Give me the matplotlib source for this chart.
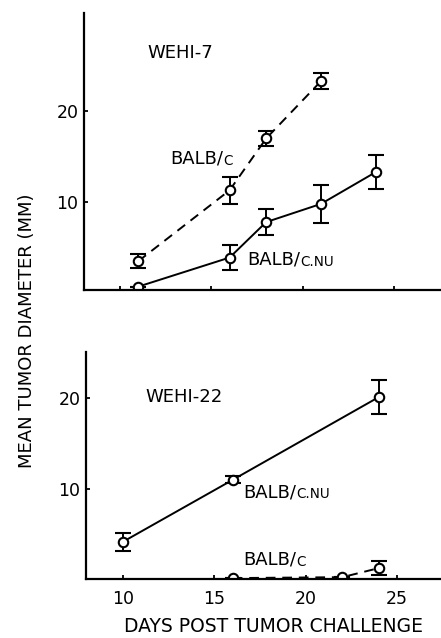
import numpy as np
import matplotlib
matplotlib.use("Agg")
import matplotlib.pyplot as plt

# WEHI-7 (top panel)
w7_balbc_days = [11, 16, 18, 21]
w7_balbc_mean = [3.5, 11.3, 17.0, 23.3]
w7_balbc_err = [0.8, 1.5, 0.8, 0.9]

w7_nu_days = [11, 16, 18, 21, 24]
w7_nu_mean = [0.7, 3.9, 7.8, 9.8, 13.3]
w7_nu_err = [0.0, 1.4, 1.4, 2.1, 1.9]

# WEHI-22 (bottom panel)
w22_nu_days = [10, 16, 24]
w22_nu_mean = [4.2, 11.0, 20.1]
w22_nu_err = [1.0, 0.4, 1.9]

w22_balbc_days = [16, 22, 24]
w22_balbc_mean = [0.2, 0.3, 1.3]
w22_balbc_err = [0.0, 0.0, 0.8]

x_ticks = [10, 15, 20, 25]
y_ticks = [10, 20]

plt.rcParams['font.family'] = ['DejaVu Sans']

fig = plt.figure(figsize=(4.41, 6.38), dpi=100)
ax1 = fig.add_axes([84/441, 1-290/638, 1-84/441, (290-13)/638])
ax2 = fig.add_axes([86/441, 1-579/638, 1-86/441, (579-352)/638])

style = dict(color="black", marker="o", markersize=6.8, markerfacecolor="white",
             markeredgewidth=1.5, lw=1.4, capsize=5.5, elinewidth=1.4, capthick=1.4)


def big_small(ax, x, y, big, small, size=13):
	t = ax.text(x, y, big, fontsize=size, va="baseline", ha="left")
	ax.annotate(small, xy=(1, 0), xycoords=t, fontsize=size*0.75,
				va="bottom", ha="left")


for ax in (ax1, ax2):
	for s in ("top", "right"):
		ax.spines[s].set_visible(False)
	ax.spines["left"].set_linewidth(1.6)
	ax.spines["bottom"].set_linewidth(1.6)
	ax.set_xticks(x_ticks)
	ax.set_yticks(y_ticks)
	ax.tick_params(direction="in", length=3, width=1.3, labelsize=12.5, pad=4)
	ax.tick_params(axis="x", pad=8)

ax1.errorbar(w7_balbc_days, w7_balbc_mean, yerr=w7_balbc_err, ls=(0, (5, 3.5)), **style)
ax1.errorbar(w7_nu_days, w7_nu_mean, yerr=w7_nu_err, ls="-", **style)
ax1.set_xlim(8.03, 27.57)
ax1.set_ylim(0.33, 30.8)
ax1.tick_params(axis="x", labelbottom=False)
ax1.text(11.48, 25.9, "WEHI-7", fontsize=13)
big_small(ax1, 12.74, 14.2, "BALB/", "C")
big_small(ax1, 16.95, 3.1, "BALB/", "C.NU")

ax2.errorbar(w22_nu_days, w22_nu_mean, yerr=w22_nu_err, ls="-", **style)
ax2.errorbar(w22_balbc_days, w22_balbc_mean, yerr=w22_balbc_err, ls=(0, (5, 3.5)), **style)
ax2.set_xlim(7.97, 27.4)
ax2.set_ylim(0.1, 25.05)
ax2.text(11.2, 19.5, "WEHI-22", fontsize=13)
big_small(ax2, 16.56, 9.1, "BALB/", "C.NU")
big_small(ax2, 16.56, 1.65, "BALB/", "C")

fig.text(273/441, 1-627/638, "DAYS POST TUMOR CHALLENGE", fontsize=13.5,
		 ha="center", va="center")
fig.text(27/441, 1-331/638, "MEAN TUMOR DIAMETER (MM)", rotation=90,
		 fontsize=13, ha="center", va="center")

fig.savefig("out.png", dpi=100)
